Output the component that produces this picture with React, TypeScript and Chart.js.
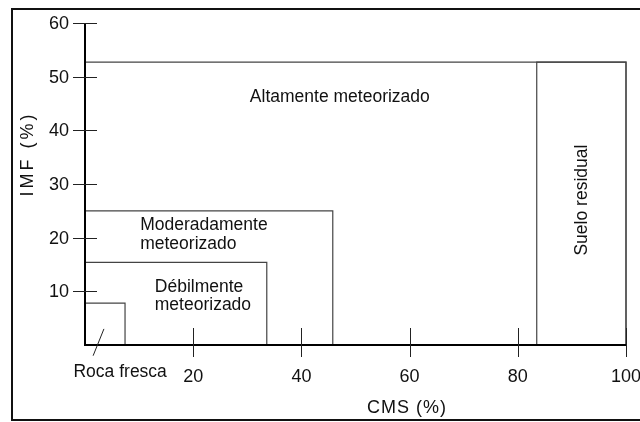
import React, { useEffect, useRef } from "react";
import { Chart, registerables } from "chart.js";

Chart.register(...registerables);

// ---- Data ----
const ZONE_NAMES = [
  "Roca fresca",
  "Débilmente meteorizado",
  "Moderadamente meteorizado",
  "Altamente meteorizado",
  "Suelo residual",
];
const ZONE_CMS_MIN = [0, 0, 0, 0, 83.5];
const ZONE_CMS_MAX = [7.4, 33.6, 45.8, 100, 100];
const ZONE_IMF_MAX = [7.8, 15.4, 25, 52.7, 52.7];

const CMS_TICKS = [20, 40, 60, 80, 100];
const IMF_TICKS = [10, 20, 30, 40, 50, 60];

const X_TITLE = "CMS (%)";
const Y_TITLE = "IMF (%)";

// Label text (lines) and anchors in data units
const LABEL_LINES = [
  ["Roca fresca"],
  ["Débilmente", "meteorizado"],
  ["Moderadamente", "meteorizado"],
  ["Altamente meteorizado"],
  ["Suelo residual"],
];
const LABEL_CMS = [6.5, 12.9, 10.2, 47.1, 92.8];
const LABEL_IMF = [-6.0, 9.9, 21.4, 45.3, 27.0];
const LABEL_ALIGN = ["center", "left", "left", "center", "center"];
const LABEL_ROTATED = [false, false, false, false, true];

// leader line for "Roca fresca"
const LEADER_CMS = [1.5, 3.5];
const LEADER_IMF = [-2.0, 3.0];

const FONT = "'Liberation Sans', Arial, Helvetica, sans-serif";

const overlayPlugin = {
  id: "overlay",
  afterDatasetsDraw(chart: any) {
    const ctx = chart.ctx as CanvasRenderingContext2D;
    const xs = chart.scales.x;
    const ys = chart.scales.y;
    const x0 = xs.getPixelForValue(0);
    const y0 = ys.getPixelForValue(0);
    const xMax = xs.getPixelForValue(100);
    const yTop = ys.getPixelForValue(60);
    ctx.save();

    // outer frame
    ctx.strokeStyle = "#111";
    ctx.lineWidth = 2;
    ctx.strokeRect(12, 9, 660, 411);

    // axes
    ctx.lineWidth = 2;
    ctx.strokeStyle = "#000";
    ctx.beginPath();
    ctx.moveTo(x0, yTop);
    ctx.lineTo(x0, y0);
    ctx.lineTo(xMax, y0);
    ctx.stroke();

    // ticks
    ctx.lineWidth = 1;
    ctx.strokeStyle = "#222";
    ctx.beginPath();
    IMF_TICKS.forEach((v) => {
      const py = Math.round(ys.getPixelForValue(v)) + 0.5;
      ctx.moveTo(x0 - 12, py);
      ctx.lineTo(x0 + 12, py);
    });
    CMS_TICKS.forEach((v) => {
      const px = Math.round(xs.getPixelForValue(v)) + 0.5;
      ctx.moveTo(px, y0 - 17);
      ctx.lineTo(px, y0 + 12);
    });
    ctx.stroke();

    // tick labels
    ctx.fillStyle = "#111";
    ctx.font = `18px ${FONT}`;
    ctx.textAlign = "right";
    ctx.textBaseline = "middle";
    IMF_TICKS.forEach((v) => {
      ctx.fillText(String(v), x0 - 16, ys.getPixelForValue(v) + 1);
    });
    ctx.textAlign = "center";
    CMS_TICKS.forEach((v) => {
      ctx.fillText(String(v), xs.getPixelForValue(v), y0 + 32);
    });

    // axis titles
    ctx.textBaseline = "alphabetic";
    (ctx as any).letterSpacing = "1px";
    ctx.fillText(X_TITLE, 407, 413);
    ctx.save();
    ctx.translate(33, 154);
    ctx.rotate(-Math.PI / 2);
    (ctx as any).letterSpacing = "3px";
    ctx.fillText(Y_TITLE, 0, 0);
    ctx.restore();
    (ctx as any).letterSpacing = "0px";

    // zone labels
    ctx.font = `17.5px ${FONT}`;
    ctx.textBaseline = "alphabetic";
    LABEL_LINES.forEach((lines, i) => {
      const px = xs.getPixelForValue(LABEL_CMS[i]);
      const py = ys.getPixelForValue(LABEL_IMF[i]);
      ctx.textAlign = LABEL_ALIGN[i] as CanvasTextAlign;
      if (LABEL_ROTATED[i]) {
        ctx.save();
        ctx.translate(px, py);
        ctx.rotate(-Math.PI / 2);
        ctx.fillText(lines[0], 0, 0);
        ctx.restore();
      } else {
        lines.forEach((ln, k) => ctx.fillText(ln, px, py + k * 18.5));
      }
    });

    // leader line
    ctx.strokeStyle = "#222";
    ctx.lineWidth = 1;
    ctx.beginPath();
    ctx.moveTo(xs.getPixelForValue(LEADER_CMS[0]), ys.getPixelForValue(LEADER_IMF[0]));
    ctx.lineTo(xs.getPixelForValue(LEADER_CMS[1]), ys.getPixelForValue(LEADER_IMF[1]));
    ctx.stroke();

    ctx.restore();
  },
};

export default function App() {
  const ref = useRef<HTMLCanvasElement | null>(null);

  useEffect(() => {
    if (!ref.current) return;
    Chart.defaults.font.family = FONT;
    const datasets = ZONE_NAMES.map((name, i) => ({
      label: name,
      data: [
        { x: ZONE_CMS_MIN[i], y: 0 },
        { x: ZONE_CMS_MIN[i], y: ZONE_IMF_MAX[i] },
        { x: ZONE_CMS_MAX[i], y: ZONE_IMF_MAX[i] },
        { x: ZONE_CMS_MAX[i], y: 0 },
      ],
      showLine: true,
      borderColor: "#444",
      borderWidth: 1.2,
      pointRadius: 0,
      fill: false,
      clip: false as any,
    }));
    const chart = new Chart(ref.current, {
      type: "scatter",
      data: { datasets },
      options: {
        animation: false,
        responsive: false,
        events: [],
        layout: { padding: { left: 85, right: 14, top: 23, bottom: 77 } },
        plugins: { legend: { display: false }, tooltip: { enabled: false } },
        scales: {
          x: { type: "linear", min: 0, max: 100, display: false },
          y: { type: "linear", min: 0, max: 60, display: false },
        },
      },
      plugins: [overlayPlugin],
    });
    return () => chart.destroy();
  }, []);

  return (
    <div style={{ position: "absolute", left: 0, top: 0, width: 640, height: 422, background: "#fff" }}>
      <canvas ref={ref} width={640} height={422} style={{ display: "block" }} />
    </div>
  );
}
